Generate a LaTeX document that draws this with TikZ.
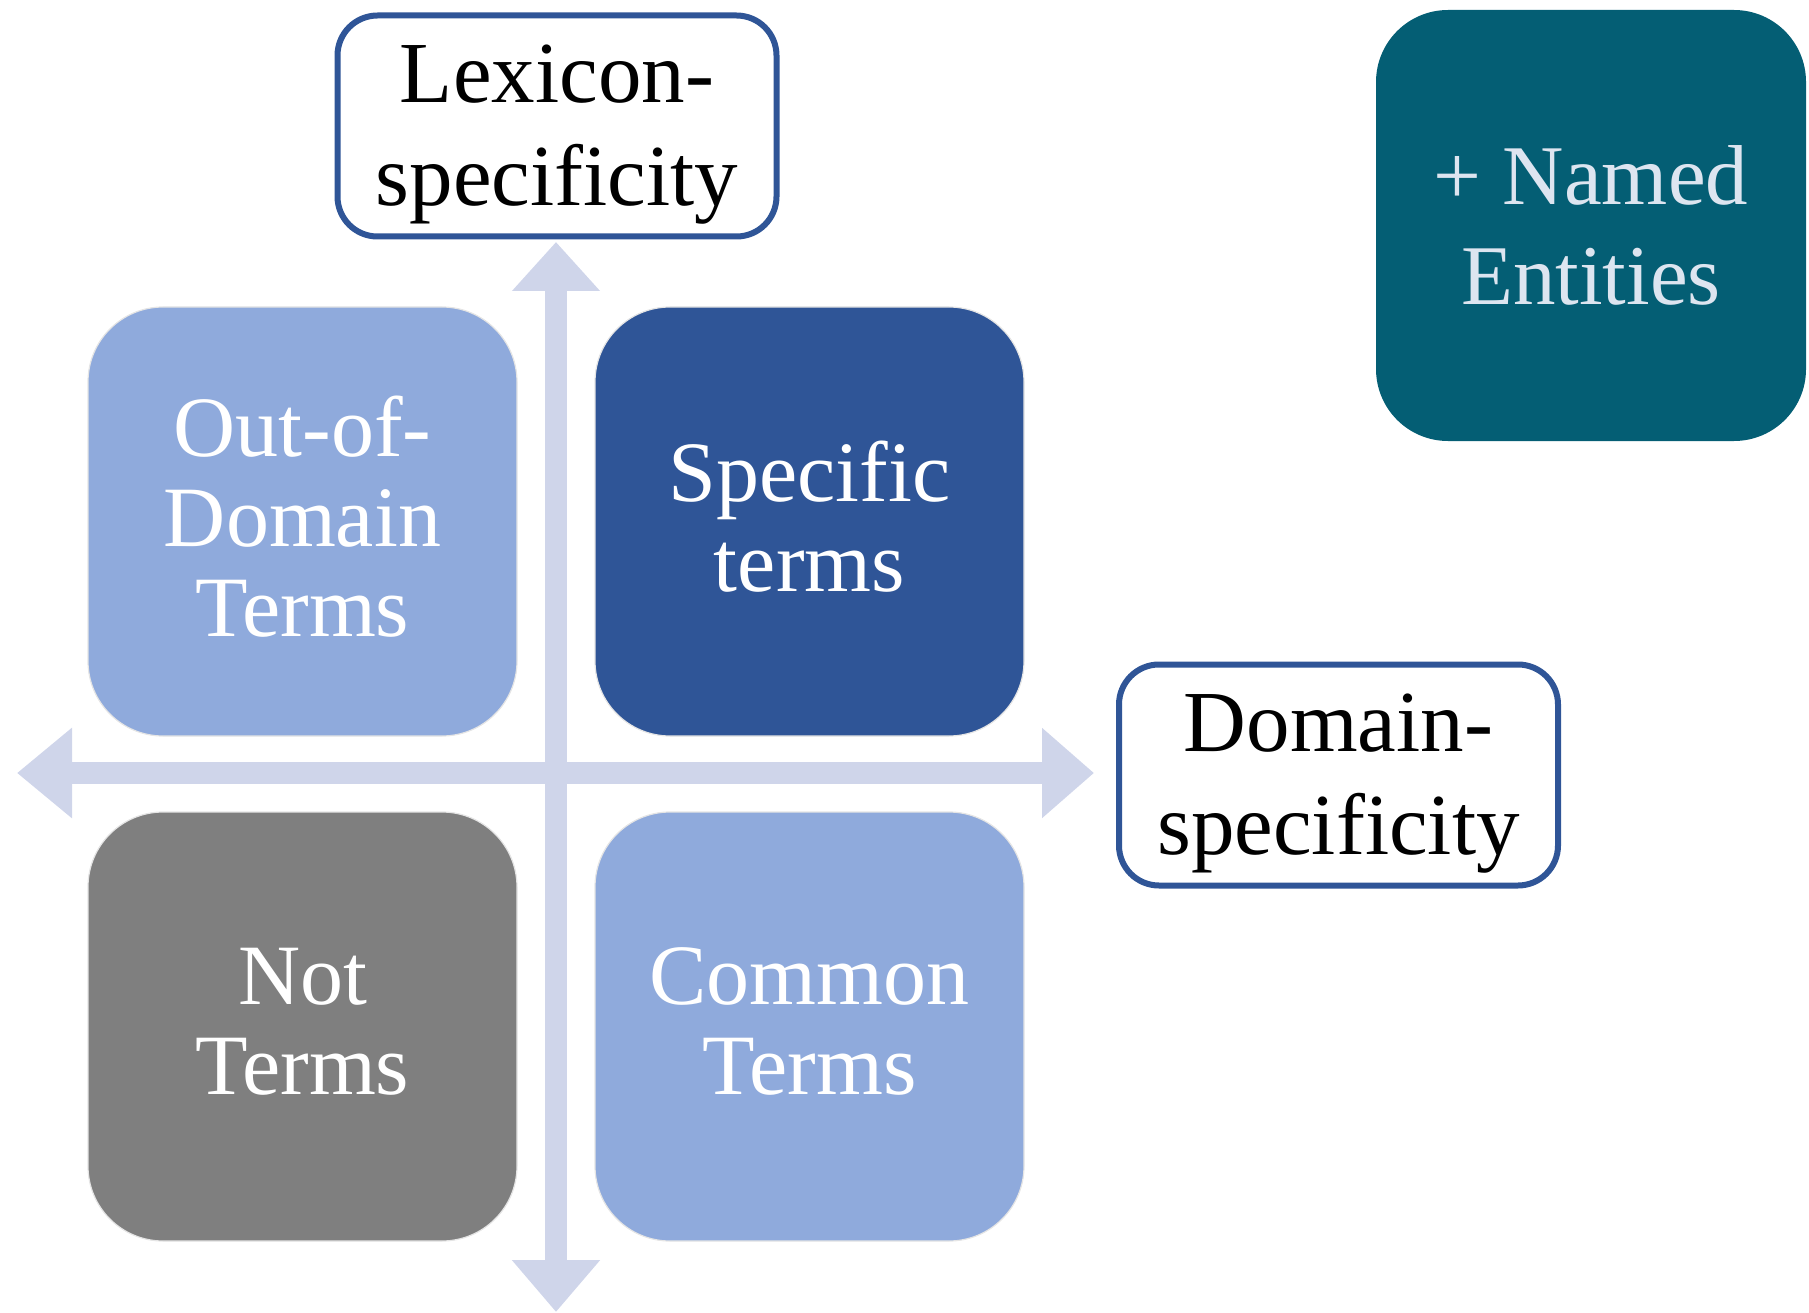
\documentclass[tikz,border=0pt]{standalone}
\usepackage{fontspec}
\setmainfont{Liberation Serif}
\usetikzlibrary{arrows.meta}
\definecolor{axiscol}{HTML}{CFD5EA}
\definecolor{lightblue}{HTML}{8FAADC}
\definecolor{darkblue}{HTML}{2F5597}
\definecolor{greybox}{HTML}{7F7F7F}
\definecolor{tealbox}{HTML}{045E74}
\definecolor{paletext}{HTML}{DDE5F0}
\tikzset{
  quad/.style={rounded corners=75pt, minimum width=429pt, minimum height=429pt,
    inner sep=0pt, draw=gray!20, line width=1.2pt},
  quadtext/.style={text=white, align=center, inner sep=0pt, yshift=5pt,
    font=\fontsize{86}{90}\selectfont},
  axislabel/.style={rounded corners=40pt, draw=darkblue, line width=6pt, fill=white,
    minimum width=439pt, minimum height=221pt, inner sep=0pt},
  axistext/.style={align=center, inner sep=0pt, yshift=-9pt,
    font=\fontsize{87}{103}\selectfont},
  axisline/.style={draw=axiscol, fill=axiscol, line width=22pt},
}
\begin{document}
\begin{tikzpicture}[x=1pt,y=-1pt]
\useasboundingbox (0,0) rectangle (1809,1313);
% axes
\coordinate (hl) at (17,773);
\coordinate (hr) at (1094,773);
\coordinate (vt) at (556,242);
\coordinate (vb) at (556,1312);
\coordinate (vt2) at (556,300);
\coordinate (vb2) at (556,1250);
\draw[axisline, {Triangle[length=55pt,width=87pt]}-{Triangle[length=52pt,width=87pt]}] (hl) -- (hr);
\draw[draw=white, line width=22.8pt] (vt2) -- (vb2);
\draw[axisline, {Triangle[length=49pt,width=85pt]}-{Triangle[length=52pt,width=85pt]}] (vt) -- (vb);
% quadrants
\node[quad, fill=lightblue] (ood) at (302.5,521.5) {};
\node[quadtext] (oodt) at (ood.center) {Out-of-\\Domain\\Terms};
\node[quad, fill=darkblue] (spec) at (809.5,521.5) {};
\node[quadtext] (spect) at (spec.center) {Specific\\terms};
\node[quad, fill=greybox] (nott) at (302.5,1026.5) {};
\node[quadtext] (nottt) at (nott.center) {Not\\Terms};
\node[quad, fill=lightblue] (comm) at (809.5,1026.5) {};
\node[quadtext] (commt) at (comm.center) {Common\\Terms};
% axis labels
\node[axislabel] (lex) at (557,126) {};
\node[axistext] (lext) at (lex.center) {Lexicon-\\specificity};
\node[axislabel] (dom) at (1338.5,775) {};
\node[axistext] (domt) at (dom.center) {Domain-\\specificity};
% named entities
\node[rounded corners=72pt, minimum width=430pt, minimum height=431pt, inner sep=0pt,
  fill=tealbox, text=paletext, align=center, font=\fontsize{85}{100}\selectfont]
  (ne) at (1591,225.5) {+ Named\\Entities};
\end{tikzpicture}
\end{document}
